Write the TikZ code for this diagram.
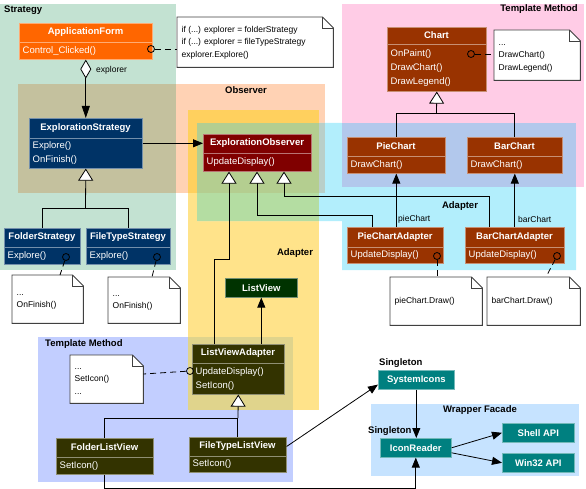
\documentclass[tikz,border=0pt]{standalone}
\usepackage{fontspec}
\setmainfont{Liberation Sans}
\usetikzlibrary{arrows.meta,calc}
\definecolor{bgS}{HTML}{C3E2D2}
\definecolor{bgO}{HTML}{FFD2B4}
\definecolor{bgY}{HTML}{FFE38A}
\definecolor{bgC}{HTML}{B2EEFC}
\definecolor{bgP}{HTML}{FFCCE6}
\definecolor{bgB}{HTML}{C2CEFF}
\definecolor{bgW}{HTML}{C6E3FF}
\definecolor{bgSO}{HTML}{C4C19E}
\definecolor{bgOY}{HTML}{FFD05E}
\definecolor{bgOC}{HTML}{B9CFC9}
\definecolor{bgYC}{HTML}{B4DDA2}
\definecolor{bgOYC}{HTML}{B4CE90}
\definecolor{bgCP}{HTML}{B2C8EC}
\definecolor{bgBY}{HTML}{E0D48C}
\definecolor{cOrange}{HTML}{FF6600}
\definecolor{cNavy}{HTML}{003366}
\definecolor{cMaroon}{HTML}{800000}
\definecolor{cBrown}{HTML}{993300}
\definecolor{cDkGreen}{HTML}{003300}
\definecolor{cOlive}{HTML}{333300}
\definecolor{cTeal}{HTML}{008080}
\tikzset{
  classbox/.style={rectangle, inner sep=0pt, line width=0.6pt},
  classtitle/.style={text=white, font=\bfseries\fontsize{9.5}{11}\selectfont, inner sep=0pt},
  classops/.style={text=white, font=\fontsize{9.5}{14}\selectfont, align=left, inner sep=0pt},
  notetext/.style={font=\fontsize{8.5}{12.5}\selectfont, align=left, inner sep=0pt},
  noteline/.style={draw=black!75, line width=0.9pt},
  lbl/.style={font=\bfseries\fontsize{9.5}{11}\selectfont, inner sep=0pt},
  rolelbl/.style={font=\fontsize{8.5}{10}\selectfont, inner sep=0pt},
  conn/.style={line width=0.8pt, draw=black},
  arr/.style={conn, -{Triangle[length=10pt,width=8pt]}},
  gen/.style={conn, -{Triangle[length=12pt,width=15pt,fill=white,line width=0.8pt]}},
  aggr/.style={conn, {Diamond[fill=white,length=19pt,width=11pt,line width=0.8pt]}-{Triangle[length=12pt,width=8pt]}},
  dep/.style={conn, dash pattern=on 6pt off 4pt},
  lollipop/.style={circle, draw=black, line width=0.8pt, minimum size=7pt, inner sep=0pt},
}
% name, x1, y1, x2, y2, sep, colour, title, methods
\newcommand\umlclass[9]{%
  \node[classbox, fill=#7, draw=#7!55!white, minimum width={#4-#2}, minimum height={#5-#3}, anchor=north west] (#1) at (#2,#3) {};
  \draw[draw=#7!55!white, line width=0.6pt] (#2,#6) -- (#4,#6);
  \node[classtitle] (#1-t) at ({(#2+#4)/2},{(#3+#6)/2}) {#8};
  \node[classops, anchor=west] (#1-m) at ({#2+3.5},{(#6+#5)/2}) {\strut #9\strut};
}
% name, x1, y1, x2, y2, colour, title
\newcommand\umlsimple[7]{%
  \node[classbox, fill=#6, draw=#6!55!white, minimum width={#4-#2}, minimum height={#5-#3}, anchor=north west] (#1) at (#2,#3) {};
  \node[classtitle] (#1-t) at (#1.center) {#7};
}
% name, x1, y1, x2, y2, text
\newcommand\umlnote[6]{%
  \node[inner sep=0pt, minimum width={#4-#2}, minimum height={#5-#3}, anchor=north west] (#1) at (#2,#3) {};
  \draw[noteline, fill=white] (#1.north west) -- ([xshift=-11pt]#1.north east) -- ([yshift=-11pt]#1.north east) -- (#1.south east) -- (#1.south west) -- cycle;
  \draw[noteline] ([xshift=-11pt]#1.north east) |- ([yshift=-11pt]#1.north east);
  \node[notetext, anchor=west] (#1-x) at ([xshift=4.5pt]#1.west) {\strut #6\strut};
}
\begin{document}
\begin{tikzpicture}[x=1pt,y=-1pt]
\useasboundingbox (0,0) rectangle (586,489);
% ---------- background regions ----------
\fill[bgS] (0,4) rectangle (176,270);
\fill[bgO] (18,84) rectangle (325,193);
\fill[bgY] (188,110) rectangle (319,410);
\fill[bgC] (197,123) -- (576,123) -- (576,270) -- (342,270) -- (342,221) -- (197,221) -- cycle;
\fill[bgP] (342,4) rectangle (584,187);
\fill[bgB] (38,337) rectangle (293,482);
\fill[bgW] (371,404) rectangle (579,476);
\fill[bgSO] (18,84) rectangle (176,193);
\fill[bgOY] (188,110) rectangle (319,193);
\fill[bgOC] (319,123) rectangle (325,193);
\fill[bgYC] (197,123) rectangle (319,221);
\fill[bgOYC] (197,123) rectangle (319,193);
\fill[bgCP] (342,123) rectangle (576,187);
\fill[bgBY] (188,337) rectangle (293,410);
% ---------- region labels ----------
\node[lbl, anchor=west] (lStrategy) at (4,10) {Strategy};
\node[lbl] (lObserver) at (246,90) {Observer};
\node[lbl, anchor=east] (lTM1) at (578,9) {Template Method};
\node[lbl] (lAdapter1) at (295,253) {Adapter};
\node[lbl] (lAdapter2) at (460,206) {Adapter};
\node[lbl, anchor=west] (lTM2) at (45,344) {Template Method};
\node[lbl, anchor=west] (lSing1) at (379,363) {Singleton};
\node[lbl, anchor=west] (lSing2) at (368,431) {Singleton};
\node[lbl] (lWF) at (480,410) {Wrapper Facade};
% ---------- classes ----------
\umlclass{af}{19}{23}{152}{59}{42}{cOrange}{ApplicationForm}{Control\_Clicked()}
\umlclass{es}{29}{118}{142}{168}{138}{cNavy}{ExplorationStrategy}{Explore()\\OnFinish()}
\umlclass{fs}{4}{228}{80}{264}{247}{cNavy}{FolderStrategy}{Explore()}
\umlclass{ft}{86}{228}{170}{264}{247}{cNavy}{FileTypeStrategy}{Explore()}
\umlclass{eo}{203}{134}{311}{171}{153}{cMaroon}{ExplorationObserver}{UpdateDisplay()}
\umlclass{chart}{387}{27}{486}{91}{44}{cBrown}{Chart}{OnPaint()\\DrawChart()\\DrawLegend()}
\umlclass{pc}{347}{137}{445}{173}{156}{cBrown}{PieChart}{DrawChart()}
\umlclass{bc}{467}{137}{562}{173}{156}{cBrown}{BarChart}{DrawChart()}
\umlclass{pca}{347}{227}{443}{263}{247}{cBrown}{PieChartAdapter}{UpdateDisplay()}
\umlclass{bca}{465}{227}{564}{263}{247}{cBrown}{BarChartAdapter}{UpdateDisplay()}
\umlclass{lva}{192}{344}{284}{394}{363}{cOlive}{ListViewAdapter}{UpdateDisplay()\\SetIcon()}
\umlclass{flv}{56}{438}{153}{474}{457}{cOlive}{FolderListView}{SetIcon()}
\umlclass{ftlv}{189}{437}{286}{472}{456}{cOlive}{FileTypeListView}{SetIcon()}
\umlsimple{lv}{225}{278}{297}{297}{cDkGreen}{ListView}
\umlsimple{si}{378}{370}{454}{389}{cTeal}{SystemIcons}
\umlsimple{ir}{380}{438}{451}{457}{cTeal}{IconReader}
\umlsimple{shell}{502}{423}{574}{442}{cTeal}{Shell API}
\umlsimple{win}{502}{453}{574}{472}{cTeal}{Win32 API}
% ---------- notes ----------
\umlnote{naf}{177}{17}{333}{67}{if (...) explorer = folderStrategy\\if (...) explorer = fileTypeStrategy\\explorer.Explore()}
\umlnote{nchart}{494}{30}{580}{80}{...\\DrawChart()\\DrawLegend()}
\umlnote{nfs}{12}{275}{83}{323}{...\\OnFinish()}
\umlnote{nft}{108}{277}{180}{323}{...\\OnFinish()}
\umlnote{npca}{390}{277}{482}{325}{pieChart.Draw()}
\umlnote{nbca}{487}{277}{580}{325}{barChart.Draw()}
\umlnote{nlva}{70}{355}{143}{403}{...\\SetIcon()\\...}
% ---------- lollipops and note links ----------
\node[lollipop] (caf) at (151,49) {};
\node[lollipop] (cchart) at (471,54) {};
\node[lollipop] (cfs) at (66,257) {};
\node[lollipop] (cft) at (157,257) {};
\node[lollipop] (cpca) at (437,256) {};
\node[lollipop] (cbca) at (557,256) {};
\node[lollipop] (clva) at (190,371) {};
\draw[dep] (caf) -- (caf -| naf.west);
\draw[dep] (cchart) -- (cchart -| nchart.west);
\draw[dep] (cfs) -- (60,0 |- nfs.north);
\draw[dep] (cft) -- (152,0 |- nft.north);
\draw[dep] (cpca) -- (cpca |- npca.north);
\draw[dep] (cbca) -- (546,0 |- nbca.north);
\draw[dep] (clva) -- (nlva.east |- 0,374);
% ---------- associations ----------
\draw[aggr] (af.south) -- (es.north);
\node[rolelbl, anchor=west] (lexplorer) at (96,70) {explorer};
\draw[arr] (es.east) -- (es.east -| eo.west);
\draw[arr] (pc.south |- pca.north) -- (pc.south);
\node[rolelbl, anchor=west] (lpie) at (398,219) {pieChart};
\draw[arr] (bc.south |- bca.north) -- (bc.south);
\node[rolelbl, anchor=west] (lbar) at (518,219) {barChart};
\draw[arr] (lv.south |- lva.north) -- (lv.south);
\draw[arr] (flv.south) -- ++(0,14) -| (ir.south);
\draw[arr] (ftlv.east |- ftlv-t) -- ([yshift=5pt]si.south west);
\draw[arr] (si.south) -- (si.south |- ir.north);
\draw[arr] (ir.east) -- (shell.west);
\draw[arr] ([yshift=-5pt]ir.east) -- (win.west);
% ---------- generalizations ----------
\coordinate (jes) at (85.5,208);
\draw[conn] (fs.north) |- (ft.north |- jes) -- (ft.north);
\draw[gen] (jes) -- (es.south);
\coordinate (jch) at (436.5,113);
\draw[conn] (pc.north) |- (bc.north |- jch) -- (bc.north);
\draw[gen] (jch) -- (chart.south);
\coordinate (jlv) at (238,418);
\draw[conn] (flv.north) |- (ftlv.north |- jlv) -- (ftlv.north);
\draw[gen] (jlv) -- (lva.south);
\draw[gen] (214,0 |- lva.north) |- (229,259) -- (229,0 |- eo.south);
\draw[gen] (372,0 |- pca.north) |- (257,215) -- (257,0 |- eo.south);
\draw[gen] (489,0 |- bca.north) |- (284,196) -- (284,0 |- eo.south);
\end{tikzpicture}
\end{document}
